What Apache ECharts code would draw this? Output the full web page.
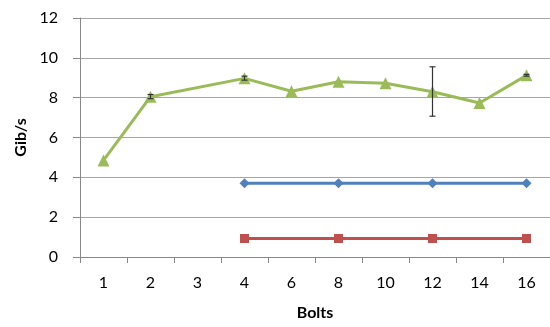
<!DOCTYPE html>
<html>
<head>
<meta charset="utf-8">
<script src="https://cdn.jsdelivr.net/npm/echarts@6/dist/echarts.min.js"></script>
<style>html,body{margin:0;padding:0;background:#fff;}#c{width:550px;height:327px;}</style>
</head>
<body>
<div id="c"></div>
<script>
var categories = ['1','2','3','4','6','8','10','12','14','16'];
var greenVals = [4.85, 8.05, null, 8.97, 8.32, 8.8, 8.72, 8.3, 7.73, 9.12];
var errLow    = [null, 7.95, null, 8.88, null, null, null, 7.07, null, 9.08];
var errHigh   = [null, 8.16, null, 9.08, null, null, null, 9.55, null, 9.17];
var blueVals  = [null, null, null, 3.7, null, 3.7, null, 3.7, null, 3.7];
var redVals   = [null, null, null, 0.93, null, 0.93, null, 0.93, null, 0.93];
var yTicks = {min: 0, max: 12, interval: 2};

var errData = [];
for (var i = 0; i < categories.length; i++) {
  if (errLow[i] != null) errData.push([i, errLow[i], errHigh[i]]);
}

var font = 'Lato, "Open Sans", sans-serif';
var chart = echarts.init(document.getElementById('c'));
chart.setOption({
  animation: false,
  grid: {left: 80, top: 18, bottom: 70, width: 475},
  xAxis: {
    type: 'category',
    data: categories,
    boundaryGap: true,
    name: 'Bolts',
    nameLocation: 'middle',
    nameGap: 48,
    nameTextStyle: {fontFamily: font, fontWeight: 'bold', fontSize: 16, color: '#000'},
    axisLine: {lineStyle: {color: '#888', width: 1}},
    axisTick: {show: true, length: 6, lineStyle: {color: '#888'}},
    axisLabel: {fontFamily: font, fontSize: 16, color: '#000', margin: 18},
    splitLine: {show: false}
  },
  yAxis: {
    type: 'value',
    min: yTicks.min, max: yTicks.max, interval: yTicks.interval,
    name: 'Gib/s',
    nameLocation: 'middle',
    nameGap: 48,
    nameRotate: 90,
    nameTextStyle: {fontFamily: font, fontWeight: 'bold', fontSize: 16, color: '#000'},
    axisLine: {show: true, lineStyle: {color: '#888', width: 1}},
    axisTick: {show: true, length: 7, lineStyle: {color: '#888'}},
    axisLabel: {fontFamily: font, fontSize: 16, color: '#000', margin: 22},
    splitLine: {lineStyle: {color: '#a6a6a6', width: 1}}
  },
  series: [
    {
      type: 'line', data: redVals, connectNulls: true,
      symbol: 'rect', symbolSize: 9,
      lineStyle: {color: '#C0504D', width: 3},
      itemStyle: {color: '#C0504D'}
    },
    {
      type: 'line', data: blueVals, connectNulls: true,
      symbol: 'diamond', symbolSize: 10,
      lineStyle: {color: '#4F81BD', width: 3},
      itemStyle: {color: '#4F81BD'}
    },
    {
      type: 'line', data: greenVals, connectNulls: true,
      symbol: 'triangle', symbolSize: 12,
      lineStyle: {color: '#9BBB59', width: 3},
      itemStyle: {color: '#9BBB59'},
      z: 3
    },
    {
      type: 'custom',
      data: errData,
      z: 4,
      renderItem: function (params, api) {
        var x = api.value(0);
        var lo = api.coord([x, api.value(1)]);
        var hi = api.coord([x, api.value(2)]);
        var w = 3;
        var st = {stroke: '#333', lineWidth: 1.2};
        return {
          type: 'group',
          children: [
            {type: 'line', shape: {x1: lo[0], y1: lo[1], x2: hi[0], y2: hi[1]}, style: st},
            {type: 'line', shape: {x1: lo[0]-w, y1: lo[1], x2: lo[0]+w, y2: lo[1]}, style: st},
            {type: 'line', shape: {x1: hi[0]-w, y1: hi[1], x2: hi[0]+w, y2: hi[1]}, style: st}
          ]
        };
      }
    }
  ]
});
</script>
</body>
</html>
